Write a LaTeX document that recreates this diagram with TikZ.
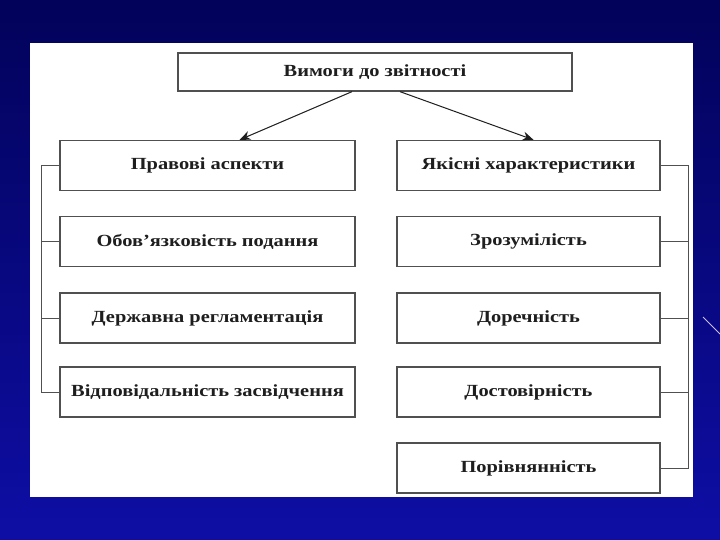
\documentclass[tikz,border=0pt]{standalone}
\usepackage{fontspec}
\setmainfont{Liberation Serif}[FakeStretch=1.2]
\usetikzlibrary{arrows.meta}
\definecolor{bgtop}{RGB}{2,2,90}
\definecolor{bgbot}{RGB}{14,14,165}
\definecolor{ink}{RGB}{30,30,30}
\definecolor{frame}{RGB}{80,80,80}
\tikzset{
  box/.style={draw=frame, line width=1.3pt, fill=white, inner sep=0pt, text=ink,
    font=\bfseries\fontsize{17}{20}\selectfont},
  lbox/.style={box, minimum width=295pt, minimum height=50pt},
  rbox/.style={box, minimum width=263pt, minimum height=50pt},
  link/.style={draw=frame, line width=0.9pt},
  arr/.style={draw=ink, line width=1pt, -{Stealth[length=11pt,width=9pt]}}
}
\begin{document}
\begin{tikzpicture}[x=1pt,y=-1pt]
\shade[top color=bgtop, bottom color=bgbot] (0,0) rectangle (720,540);
\useasboundingbox (0,0) rectangle (720,540);
\fill[white] (30,43) rectangle (693,497);
\draw[color={rgb,255:red,200;green,190;blue,240}, line width=1pt] (703,317) -- (720,334);
\node[box, minimum width=394pt, minimum height=38pt] (top) at (375,72) {Вимоги до звітності};
\node[lbox] (pa) at (207.5,165.5) {Правові аспекти};
\node[lbox] (ob) at (207.5,241.5) {Обов'язковість подання};
\node[lbox] (dr) at (207.5,318) {Державна регламентація};
\node[lbox] (vz) at (207.5,392) {Відповідальність засвідчення};
\node[rbox] (yk) at (528.5,165.5) {Якісні характеристики};
\node[rbox] (zr) at (528.5,241.5) {Зрозумілість};
\node[rbox] (dc) at (528.5,318) {Доречність};
\node[rbox] (ds) at (528.5,392) {Достовірність};
\node[rbox] (pr) at (528.5,468) {Порівнянність};
\draw[arr] ([xshift=-23pt]top.south) -- ([xshift=32pt]pa.north);
\draw[arr] ([xshift=25pt]top.south) -- ([xshift=5pt]yk.north);
\coordinate (lb) at (41,0);
\coordinate (rb) at (688,0);
\draw[link] (pa.west) -- (pa.west -| lb) -- (vz.west -| lb) -- (vz.west);
\draw[link] (ob.west) -- (ob.west -| lb);
\draw[link] (dr.west) -- (dr.west -| lb);
\draw[link] (yk.east) -- (yk.east -| rb) -- (pr.east -| rb) -- (pr.east);
\draw[link] (zr.east) -- (zr.east -| rb);
\draw[link] (dc.east) -- (dc.east -| rb);
\draw[link] (ds.east) -- (ds.east -| rb);
\end{tikzpicture}
\end{document}
